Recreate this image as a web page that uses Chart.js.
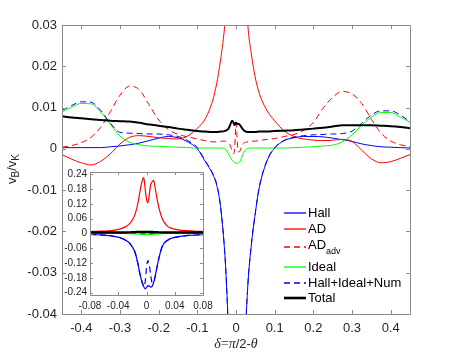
<!DOCTYPE html>
<html>
<head>
<meta charset="utf-8">
<script src="https://cdn.jsdelivr.net/npm/chart.js@4.4.0/dist/chart.umd.min.js"></script>
<style>
  html, body { margin: 0; padding: 0; background: #fff; }
  #wrap { position: relative; width: 453px; height: 354px; }
  #main { position: absolute; left: 0; top: 0; }
  #inset { position: absolute; left: 58px; top: 163px; }
</style>
</head>
<body>
<div id="wrap">
  <canvas id="main" width="453" height="354"></canvas>
  <canvas id="inset" width="160" height="155"></canvas>
</div>
<script>
// main panel: delta = pi/2 - theta
const delta = [-0.45,-0.425,-0.4,-0.375,-0.35,-0.325,-0.3,-0.275,-0.25,-0.225,-0.2,-0.175,-0.15,-0.125,-0.1,
  -0.08,-0.06,-0.05,-0.04,-0.03,-0.025,-0.02,-0.015,-0.01,-0.007,-0.004,-0.002,
  0,
  0.002,0.004,0.007,0.01,0.015,0.02,0.025,0.03,0.04,0.05,0.06,0.08,
  0.1,0.125,0.15,0.175,0.2,0.225,0.25,0.275,0.3,0.325,0.35,0.375,0.4,0.425,0.45];

const hall = [0.0003,0.0003,0.0003,0.0003,0.0003,0.0005,0.0007,0.001,0.0014,0.002,0.0026,0.003,0.0027,0.0017,0.0,
  -0.003,-0.0062,-0.0088,-0.014,-0.024,-0.032,-0.045,-0.08,-0.15,-0.19,-0.21,-0.225,
  -0.22,
  -0.21,-0.215,-0.219,-0.2,-0.13,-0.07,-0.045,-0.034,-0.023,-0.0155,-0.0095,-0.003,
  0.0002,0.002,0.0027,0.003,0.003,0.0029,0.0026,0.0022,0.0018,0.0012,0.0008,0.0005,0.0004,0.0003,0.0002];

const ad = [-0.0014,-0.0025,-0.0034,-0.0039,-0.003,-0.0012,0.0012,0.0028,0.0032,0.003,0.0027,0.0025,0.0024,0.0031,0.005,
  0.0072,0.0118,0.0158,0.0215,0.029,0.035,0.05,0.08,0.15,0.2,0.228,0.19,
  0.145,
  0.125,0.16,0.21,0.216,0.14,0.075,0.042,0.031,0.0228,0.0172,0.0135,0.0093,
  0.0068,0.0043,0.003,0.0024,0.0021,0.002,0.0021,0.0023,0.0018,-0.0003,-0.0024,-0.0034,-0.0031,-0.0023,-0.0014];

const adAdv = [0.0004,0.0008,0.0015,0.0028,0.0052,0.009,0.013,0.0152,0.0143,0.0107,0.007,0.0047,0.0035,0.0029,0.0024,
  0.002,0.0017,0.0017,0.0018,0.0019,0.0017,0.0014,0.0009,-0.0006,-0.0012,-0.0005,0.003,
  0.0062,
  0.004,0.0008,-0.0008,-0.0006,0.0008,0.0014,0.0016,0.0017,0.0018,0.0019,0.002,0.0023,
  0.0025,0.003,0.0035,0.0045,0.0064,0.0098,0.0125,0.0139,0.0133,0.011,0.0072,0.0038,0.0019,0.001,0.0005];

const ideal = [0.0089,0.0101,0.011,0.0109,0.0089,0.006,0.0031,0.0016,0.001,0.0007,0.0006,0.0005,0.0004,0.0003,0.0002,
  0.0002,0.0002,0.0002,0.0002,0.0001,-0.0003,-0.0011,-0.002,-0.0028,-0.0031,-0.0033,-0.0034,
  -0.0035,
  -0.0035,-0.0035,-0.0034,-0.0031,-0.002,-0.0009,-0.0002,0.0001,0.0002,0.0002,0.0002,0.0002,
  0.0002,0.0002,0.0003,0.0004,0.0005,0.0007,0.0009,0.0017,0.0034,0.0057,0.0077,0.0088,0.0088,0.0077,0.0064];

const hallIdealNum = [0.0093,0.0105,0.0114,0.0113,0.0093,0.0062,0.004,0.0038,0.0037,0.0036,0.0036,0.0034,0.003,0.002,0.0003,
  -0.0028,-0.006,-0.0085,-0.0138,-0.024,-0.032,-0.046,-0.08,-0.14,-0.18,-0.2,-0.19,
  -0.14,
  -0.11,-0.13,-0.19,-0.2,-0.13,-0.07,-0.045,-0.034,-0.023,-0.0155,-0.0093,-0.0028,
  0.0003,0.0021,0.0028,0.0032,0.0034,0.0035,0.0036,0.0037,0.0043,0.0062,0.0082,0.0092,0.0092,0.0082,0.0066];

const total = [0.0079,0.0076,0.0074,0.0072,0.007,0.0068,0.0067,0.0066,0.0063,0.0059,0.0056,0.0053,0.0049,0.0046,0.0043,
  0.0042,0.0041,0.0041,0.0042,0.0043,0.0045,0.0048,0.0058,0.0068,0.0065,0.0058,0.006,
  0.0063,
  0.0062,0.006,0.006,0.0058,0.0051,0.0045,0.0042,0.0041,0.0041,0.0041,0.0042,0.0042,
  0.0043,0.0044,0.0045,0.0047,0.0049,0.0051,0.0054,0.0057,0.0057,0.0057,0.0057,0.0056,0.0055,0.0053,0.005];

// inset (zoom on the midplane)
const deltaInset = [-0.08,-0.07,-0.06,-0.05,-0.04,-0.035,-0.03,-0.025,-0.02,-0.016,-0.012,-0.009,-0.006,-0.004,-0.002,
  0,0.002,0.004,0.006,0.008,0.01,0.012,0.015,0.018,0.022,0.026,0.03,0.035,0.04,0.05,0.06,0.07,0.08];
const hallInset = [-0.004,-0.005,-0.007,-0.0095,-0.015,-0.02,-0.027,-0.036,-0.055,-0.078,-0.125,-0.168,-0.2,-0.215,-0.225,
  -0.22,-0.212,-0.214,-0.218,-0.215,-0.2,-0.178,-0.135,-0.095,-0.055,-0.036,-0.027,-0.02,-0.016,-0.011,-0.008,-0.006,-0.005];
const adInset = [0.008,0.009,0.01,0.012,0.017,0.021,0.027,0.037,0.055,0.08,0.125,0.175,0.215,0.228,0.185,
  0.14,0.125,0.16,0.2,0.21,0.216,0.19,0.14,0.1,0.062,0.042,0.029,0.022,0.018,0.013,0.011,0.009,0.008];
const adAdvInset = [0.002,0.0018,0.0017,0.0017,0.0018,0.0018,0.0019,0.0017,0.0014,0.001,0,-0.0009,-0.0011,-0.0005,0.003,
  0.0062,0.004,0.0008,-0.0006,-0.0008,-0.0006,0.0001,0.0008,0.0012,0.0015,0.0016,0.0017,0.0017,0.0018,0.0019,0.002,0.0021,0.0023];
const idealInset = [0.0002,0.0002,0.0002,0.0002,0.0002,0.0002,0.0001,-0.0003,-0.0011,-0.0018,-0.0025,-0.0029,-0.0032,-0.0033,-0.0034,
  -0.0035,-0.0035,-0.0035,-0.0034,-0.0033,-0.0031,-0.0027,-0.002,-0.0013,-0.0006,-0.0001,0.0001,0.0002,0.0002,0.0002,0.0002,0.0002,0.0002];
const hinInset = [-0.0038,-0.0048,-0.0068,-0.0093,-0.0145,-0.0195,-0.0265,-0.036,-0.055,-0.078,-0.125,-0.168,-0.2,-0.215,-0.2,
  -0.14,-0.11,-0.13,-0.17,-0.2,-0.2,-0.178,-0.135,-0.095,-0.055,-0.036,-0.027,-0.02,-0.016,-0.011,-0.008,-0.006,-0.0048];
const totalInset = [0.0042,0.0042,0.0041,0.0041,0.0042,0.0042,0.0043,0.0045,0.0048,0.0056,0.0065,0.0067,0.0063,0.0058,0.006,
  0.0063,0.0062,0.006,0.006,0.0059,0.0058,0.0055,0.0051,0.0047,0.0044,0.0042,0.0041,0.0041,0.0041,0.0041,0.0042,0.0042,0.0042];

const seriesNames = ['Hall', 'AD', 'AD_adv', 'Ideal', 'Hall+Ideal+Num', 'Total'];
const xTicksMain = [-0.4, -0.3, -0.2, -0.1, 0, 0.1, 0.2, 0.3, 0.4];
const yTicksMain = [-0.04, -0.03, -0.02, -0.01, 0, 0.01, 0.02, 0.03];
const xTicksInset = [-0.08, -0.04, 0, 0.04, 0.08];
const yTicksInset = [-0.24, -0.18, -0.12, -0.06, 0, 0.06, 0.12, 0.18, 0.24];

const SANS = "'Liberation Sans', Arial, Helvetica, sans-serif";
const SERIF = "'Liberation Serif', 'Times New Roman', serif";
const TXT = '#262626';

const styles = [
  { color: '#0000ff', dash: [], width: 1 },
  { color: '#ff0000', dash: [], width: 1 },
  { color: '#ff0000', dash: [6, 4], width: 1 },
  { color: '#00ff00', dash: [], width: 1 },
  { color: '#0000ff', dash: [6, 4], width: 1 },
  { color: '#000000', dash: [], width: 2 }
];

function pts(xs, ys) { return xs.map((x, i) => ({ x: x, y: ys[i] })); }

function makeDatasets(xs, cols, widthScale) {
  return cols.map((ys, i) => ({
    label: seriesNames[i],
    data: pts(xs, ys),
    borderColor: styles[i].color,
    borderDash: styles[i].dash,
    borderWidth: styles[i].width * widthScale,
    pointRadius: 0,
    fill: false,
    cubicInterpolationMode: 'monotone',
    order: cols.length - i   // later series on top, like the original
  }));
}

function fmt(v) {
  const r = Math.round(v * 100) / 100;
  return r === 0 ? '0' : String(r);
}

// axes box with inward ticks
const frame = {
  id: 'frame',
  beforeDraw(chart, args, opts) {
    if (!opts.fill) return;
    const a = chart.chartArea, ctx = chart.ctx;
    ctx.save();
    ctx.fillStyle = '#fff';
    ctx.fillRect(a.left, a.top, a.right - a.left, a.bottom - a.top);
    ctx.restore();
  },
  afterDatasetsDraw(chart, args, opts) {
    const ctx = chart.ctx, a = chart.chartArea;
    const xs = chart.scales.x, ys = chart.scales.y;
    const L = Math.round(a.left), R = Math.round(a.right), T = Math.round(a.top), B = Math.round(a.bottom);
    ctx.save();
    ctx.strokeStyle = opts.color;
    ctx.lineWidth = 1;
    ctx.setLineDash([]);
    ctx.beginPath();
    ctx.rect(L + 0.5, T + 0.5, R - L, B - T);
    xs.ticks.forEach(t => {
      const p = Math.round(xs.getPixelForValue(t.value)) + 0.5;
      ctx.moveTo(p, B); ctx.lineTo(p, B - opts.tick);
      ctx.moveTo(p, T); ctx.lineTo(p, T + opts.tick);
    });
    ys.ticks.forEach(t => {
      const p = Math.round(ys.getPixelForValue(t.value)) + 0.5;
      ctx.moveTo(L, p); ctx.lineTo(L + opts.tick, p);
      ctx.moveTo(R, p); ctx.lineTo(R - opts.tick, p);
    });
    ctx.stroke();
    ctx.restore();
  }
};

// legend, axis titles
const decor = {
  id: 'decor',
  afterDraw(chart) {
    const ctx = chart.ctx;
    ctx.save();
    // legend (no box, inside the lower right of the axes)
    const rows = [213, 229, 247, 267, 283, 298];
    seriesNames.forEach((name, i) => {
      const y = rows[i];
      const st = styles[i];
      ctx.save();
      ctx.strokeStyle = st.color;
      ctx.lineWidth = st.width * 1.3;
      ctx.setLineDash(st.dash);
      ctx.beginPath();
      ctx.moveTo(284, y);
      ctx.lineTo(306, y);
      ctx.stroke();
      ctx.restore();
      ctx.fillStyle = '#000';
      ctx.textBaseline = 'middle';
      ctx.textAlign = 'left';
      const parts = name.split('_');
      ctx.font = '13px ' + SANS;
      const ty = parts.length > 1 ? y - 1.5 : y;
      ctx.fillText(parts[0], 308, ty);
      if (parts.length > 1) {
        const w = ctx.measureText(parts[0]).width;
        ctx.font = '9px ' + SANS;
        ctx.fillText(parts[1], 308 + w, ty + 6);
      }
    });

    // x title: delta = pi/2 - theta
    const seg = [
      ['\u03b4', 'italic 14px ' + SERIF],
      ['=', '14px ' + SERIF],
      ['\u03c0', 'italic 14px ' + SERIF],
      ['/2-', '13px ' + SANS],
      ['\u03b8', 'italic 14px ' + SERIF]
    ];
    let wsum = 0;
    seg.forEach(s => { ctx.font = s[1]; wsum += ctx.measureText(s[0]).width; });
    let cx = 236 - wsum / 2;
    ctx.fillStyle = TXT;
    ctx.textBaseline = 'alphabetic';
    seg.forEach(s => { ctx.font = s[1]; ctx.fillText(s[0], cx, 348); cx += ctx.measureText(s[0]).width; });

    // y title: v_B / v_K
    const yseg = [['v', 0, 13], ['B', 3, 10], ['/v', 0, 13], ['K', 3, 10]];
    let h = 0;
    yseg.forEach(s => { ctx.font = s[2] + 'px ' + SANS; h += ctx.measureText(s[0]).width; });
    ctx.translate(16, 169);
    ctx.rotate(-Math.PI / 2);
    let tx = -h / 2;
    yseg.forEach(s => {
      ctx.font = s[2] + 'px ' + SANS;
      ctx.fillText(s[0], tx, s[1]);
      tx += ctx.measureText(s[0]).width;
    });
    ctx.restore();
  }
};

function scaleOpts(min, max, tickList, fontSize, pad, size, isX) {
  return {
    type: 'linear',
    min: min,
    max: max,
    grid: { display: false, drawTicks: false },
    border: { display: false },
    afterBuildTicks: s => { s.ticks = tickList.map(v => ({ value: v })); },
    afterFit: s => { if (isX) s.height = size; else s.width = size; },
    ticks: {
      callback: v => fmt(v),
      color: TXT,
      padding: pad,
      maxRotation: 0,
      autoSkip: false,
      font: { family: SANS, size: fontSize }
    }
  };
}

new Chart(document.getElementById('main'), {
  type: 'line',
  data: { datasets: makeDatasets(delta, [hall, ad, adAdv, ideal, hallIdealNum, total], 1) },
  options: {
    responsive: false,
    animation: false,
    devicePixelRatio: 1,
    events: [],
    layout: { padding: { top: 25, right: 43, left: 0, bottom: 0 } },
    scales: {
      x: scaleOpts(-0.45, 0.45, xTicksMain, 13, 7, 40, true),
      y: scaleOpts(-0.04, 0.03, yTicksMain, 13, 5, 62, false)
    },
    plugins: {
      legend: { display: false },
      tooltip: { enabled: false },
      frame: { color: '#8a8a8a', tick: 4, fill: false }
    }
  },
  plugins: [frame, decor]
});

new Chart(document.getElementById('inset'), {
  type: 'line',
  data: { datasets: makeDatasets(deltaInset, [hallInset, adInset, adAdvInset, idealInset, hinInset, totalInset], 1.2) },
  options: {
    responsive: false,
    animation: false,
    devicePixelRatio: 1,
    events: [],
    layout: { padding: { top: 8, right: 15, left: 0, bottom: 0 } },
    scales: {
      x: scaleOpts(-0.08, 0.08, xTicksInset, 10, 5, 23, true),
      y: scaleOpts(-0.25, 0.25, yTicksInset, 10, 3, 32, false)
    },
    plugins: {
      legend: { display: false },
      tooltip: { enabled: false },
      frame: { color: '#8a8a8a', tick: 3, fill: true }
    }
  },
  plugins: [frame]
});
</script>
</body>
</html>
